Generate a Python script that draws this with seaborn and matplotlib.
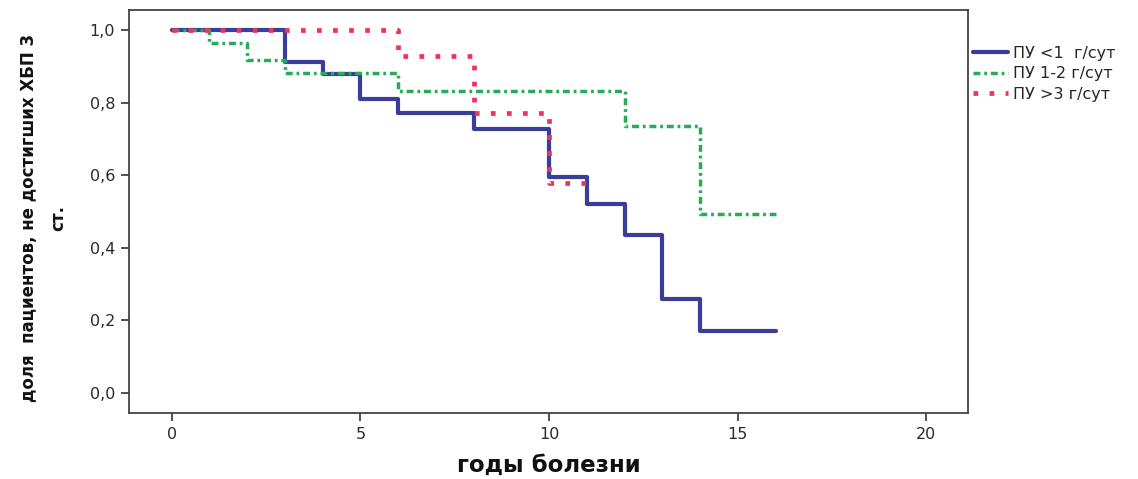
import numpy as np
import pandas as pd
import matplotlib
matplotlib.use("Agg")
import matplotlib.pyplot as plt
from matplotlib.ticker import FuncFormatter
import seaborn as sns

# Kaplan–Meier step curves: time (years of disease) and share of patients without CKD stage 3
groups = ["ПУ <1  г/сут", "ПУ 1-2 г/сут", "ПУ >3 г/сут"]

time_low = [0, 3, 4, 5, 6, 8, 10, 11, 12, 13, 14, 16]
surv_low = [1.0, 0.912, 0.879, 0.811, 0.772, 0.726, 0.596, 0.521, 0.435, 0.259, 0.171, 0.171]

time_mid = [0, 1, 2, 3, 6, 12, 14, 16]
surv_mid = [1.0, 0.963, 0.917, 0.881, 0.833, 0.736, 0.492, 0.492]

time_high = [0, 6, 8, 10, 11]
surv_high = [1.0, 0.928, 0.772, 0.579, 0.579]

x_ticks = [0, 5, 10, 15, 20]
y_ticks = [0.0, 0.2, 0.4, 0.6, 0.8, 1.0]

df = pd.concat([
    pd.DataFrame({"t": time_low, "s": surv_low, "g": groups[0]}),
    pd.DataFrame({"t": time_mid, "s": surv_mid, "g": groups[1]}),
    pd.DataFrame({"t": time_high, "s": surv_high, "g": groups[2]}),
], ignore_index=True)

sns.set_theme(style="white")
plt.rcParams["font.family"] = ["DejaVu Sans"]

fig = plt.figure(figsize=(11.38, 4.79), dpi=100)
ax = fig.add_axes([0.1134, 0.1378, 0.7372, 0.8413])

palette = {groups[0]: "#3a3d9a", groups[1]: "#27ab57", groups[2]: "#f0325a"}
dashes = {groups[0]: "", groups[1]: (2.0, 1.1, 0.8, 1.1), groups[2]: (1.0, 2.4)}
sizes = {groups[0]: 3.0, groups[1]: 2.5, groups[2]: 3.4}

sns.lineplot(data=df, x="t", y="s", hue="g", style="g", size="g",
             hue_order=groups, style_order=groups, size_order=groups,
             palette=palette, dashes=dashes, sizes=sizes,
             estimator=None, drawstyle="steps-post", ax=ax, legend=True)

ax.set_xlim(-1.13, 21.1)
ax.set_ylim(-0.055, 1.055)
ax.set_xticks(x_ticks)
ax.set_yticks(y_ticks)
ax.yaxis.set_major_formatter(FuncFormatter(lambda v, _: f"{v:.1f}".replace(".", ",")))

ax.tick_params(axis="both", direction="out", length=6, width=1.2,
               color="#333333", labelcolor="#2a2a2a", labelsize=11.5, pad=4,
               bottom=True, left=True)

for sp in ax.spines.values():
    sp.set_visible(True)
    sp.set_color("#444444")
    sp.set_linewidth(1.3)

ax.set_xlabel("годы болезни", fontsize=16.5, fontweight="bold", color="#111111")
ax.xaxis.set_label_coords(0.5, -0.102)
ax.set_ylabel("доля  пациентов, не достигших ХБП 3\nст.", fontsize=12,
              fontweight="bold", color="#111111", multialignment="center",
              linespacing=1.8)
ax.yaxis.set_label_coords(-0.074, 0.484)

handles, labels = ax.get_legend_handles_labels()
ax.legend(handles, labels, loc="upper left", bbox_to_anchor=(0.855, 0.905),
          bbox_transform=fig.transFigure, frameon=False, fontsize=11.5,
          handlelength=2.2, handletextpad=0.3, labelspacing=0.36, borderpad=0,
          borderaxespad=0)

fig.savefig("out.png", dpi=100, facecolor="white")
